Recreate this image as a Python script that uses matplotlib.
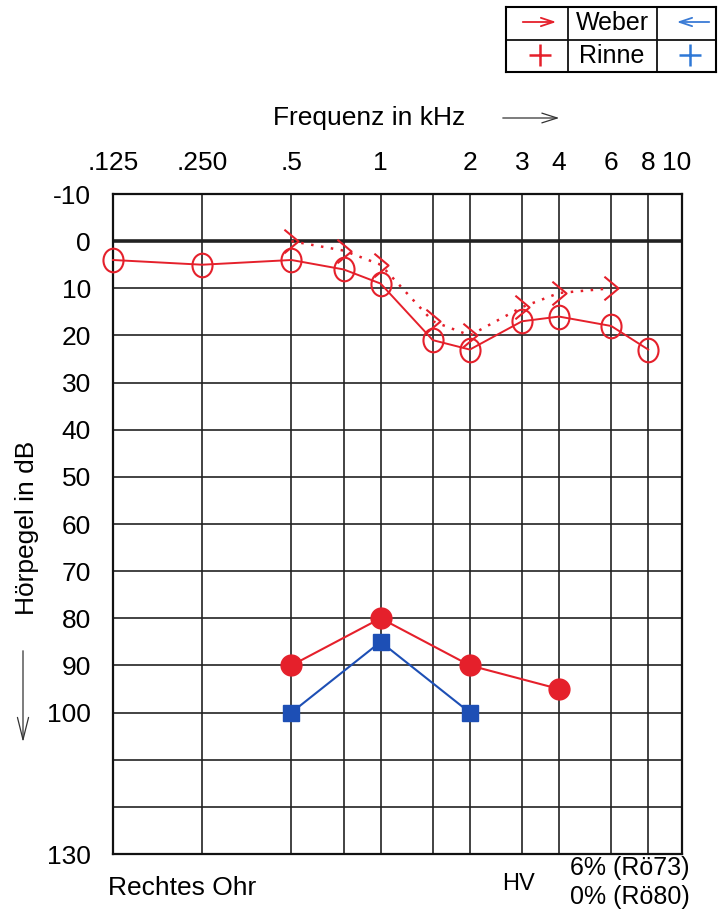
import matplotlib.pyplot as plt
from matplotlib.path import Path

plt.rcParams['font.family'] = ['Liberation Sans', 'DejaVu Sans']

# air conduction, right ear (open circles)
freq_air = [0.125, 0.25, 0.5, 0.75, 1, 1.5, 2, 3, 4, 6, 8]
db_air = [4, 5, 4, 6, 9, 21, 23, 17, 16, 18, 23]

# bone conduction, right ear (">" markers, dotted)
freq_bone = [0.5, 0.75, 1, 1.5, 2, 3, 4, 6]
db_bone = [0, 2, 5, 17, 20, 14, 11, 10]

# lower red (filled circles) and blue (squares) series
freq_red = [0.5, 1, 2, 4]
db_red = [90, 80, 90, 95]
freq_blue = [0.5, 1, 2]
db_blue = [100, 85, 100]

grid_freqs = [0.25, 0.5, 0.75, 1, 1.5, 2, 3, 4, 6, 8]
grid_levels = list(range(0, 130, 10))
xtick_vals = [0.125, 0.25, 0.5, 1, 2, 3, 4, 6, 8, 10]
xtick_labels = ['.125', '.250', '.5', '1', '2', '3', '4', '6', '8', '10']
ytick_vals = [-10, 0, 10, 20, 30, 40, 50, 60, 70, 80, 90, 100, 130]

RED = '#e5202b'
BLUE = '#1d4fb5'
FS = 19

W, H = 721, 913
fig = plt.figure(figsize=(W / 100, H / 100), dpi=100)
ax = fig.add_axes([113 / W, 1 - 854 / H, (682 - 113) / W, (854 - 194) / H])

ax.set_xscale('log')
ax.set_xlim(0.125, 10.4)
ax.set_ylim(130, -10)

for f in grid_freqs:
    ax.axvline(f, color='#222222', lw=1.2, zorder=1)
for lv in grid_levels:
    ax.axhline(lv, color='#222222', lw=2.6 if lv == 0 else 1.2, zorder=1)
for s in ax.spines.values():
    s.set_linewidth(1.6)
    s.set_color('#111111')

ax.xaxis.set_minor_locator(plt.NullLocator())
ax.set_xticks(xtick_vals)
ax.set_xticklabels(xtick_labels)
ax.set_yticks(ytick_vals)
ax.set_yticklabels([str(v) for v in ytick_vals])
ax.tick_params(axis='x', which='both', top=True, labeltop=True, bottom=False,
               labelbottom=False, length=0, pad=14, labelsize=FS)
ax.tick_params(axis='y', length=0, pad=16, labelsize=FS)

chevron = Path([(-0.6, 1), (0.6, 0), (-0.6, -1)],
               [Path.MOVETO, Path.LINETO, Path.LINETO])
# slightly tall circle, like the hand-drawn ones
oval = Path.unit_circle().transformed(
    plt.matplotlib.transforms.Affine2D().scale(0.85, 1.0))

ax.plot(freq_air, db_air, color=RED, lw=1.4, marker=oval, ms=17,
        mfc='none', mec=RED, mew=1.5, zorder=3, clip_on=False)
ax.plot(freq_bone, db_bone, color=RED, lw=1.8, ls=(0, (1, 3)), marker=chevron,
        ms=17, mfc='none', mec=RED, mew=1.5, zorder=3)
ax.plot(freq_red, db_red, color=RED, lw=1.5, marker='o', ms=15,
        mfc=RED, mec=RED, zorder=4)
ax.plot(freq_blue, db_blue, color=BLUE, lw=1.5, marker='s', ms=12,
        mfc=BLUE, mec=BLUE, zorder=3)

# axis titles
fig.text(369 / W, 1 - 118 / H, 'Frequenz in kHz', fontsize=FS,
         ha='center', va='center')
fig.add_artist(plt.Annotation('', xy=(562 / W, 1 - 118 / H), xytext=(500 / W, 1 - 118 / H),
                              xycoords='figure fraction',
                              arrowprops=dict(arrowstyle='->,head_length=1.1,head_width=0.35',
                                              lw=0.9, color='#333333')))
fig.text(27 / W, 1 - 528 / H, 'Hörpegel in dB', fontsize=FS, rotation=90,
         ha='center', va='center')
fig.add_artist(plt.Annotation('', xy=(23 / W, 1 - 745 / H), xytext=(23 / W, 1 - 648 / H),
                              xycoords='figure fraction',
                              arrowprops=dict(arrowstyle='->,head_length=1.6,head_width=0.4',
                                              lw=0.9, color='#333333')))

# bottom notes
fig.text(108 / W, 1 - 888 / H, 'Rechtes Ohr', fontsize=FS, ha='left', va='center')
fig.text(519 / W, 1 - 884 / H, 'HV', fontsize=17, ha='center', va='center')
fig.text(690 / W, 1 - 868 / H, '6% (Rö73)', fontsize=FS - 1, ha='right', va='center')
fig.text(690 / W, 1 - 897 / H, '0% (Rö80)', fontsize=FS - 1, ha='right', va='center')

# Weber / Rinne legend table
lg = fig.add_axes([506 / W, 1 - 72 / H, (716 - 506) / W, (72 - 7) / H])
lg.set_xlim(0, 210)
lg.set_ylim(65, 0)
lg.set_xticks([])
lg.set_yticks([])
for s in lg.spines.values():
    s.set_linewidth(1.5)
lg.axvline(62, color='#111111', lw=1.3)
lg.axvline(151, color='#111111', lw=1.3)
lg.axhline(33, color='#111111', lw=1.3)
lg.text(106, 16, 'Weber', fontsize=FS - 1, ha='center', va='center')
lg.text(106, 49, 'Rinne', fontsize=FS - 1, ha='center', va='center')
lg.annotate('', xy=(53, 15), xytext=(14, 15),
            arrowprops=dict(arrowstyle='->,head_length=0.9,head_width=0.3', lw=1.3, color=RED))
lg.annotate('', xy=(168, 15), xytext=(206, 15),
            arrowprops=dict(arrowstyle='->,head_length=0.9,head_width=0.3', lw=1.3,
                            color='#3a7bd5'))
lg.plot([34], [48], marker='+', ms=16, mew=1.8, color=RED)
lg.plot([184], [48], marker='+', ms=16, mew=1.8, color='#2e78d6')

fig.savefig('out.png', dpi=100)
